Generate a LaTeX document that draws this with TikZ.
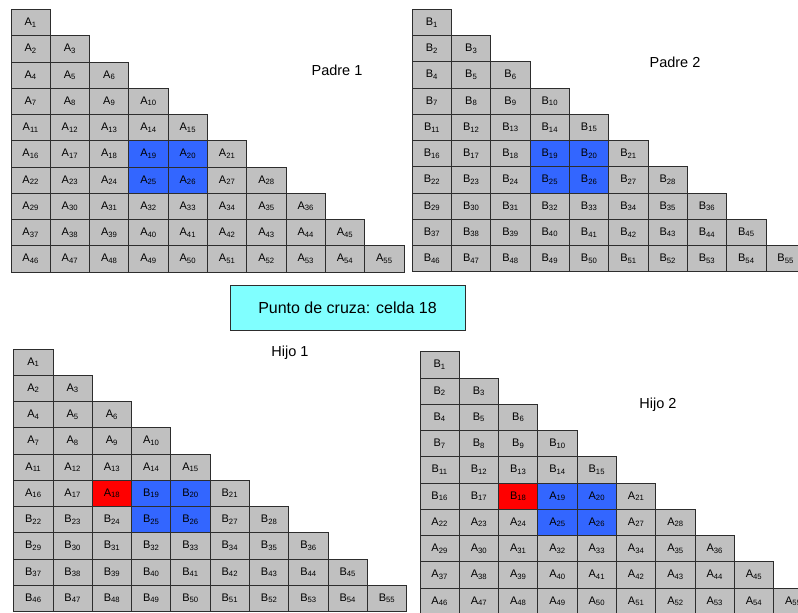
\documentclass[tikz,border=0pt]{standalone}
\usepackage{fontspec}
\setmainfont{Liberation Sans}
\definecolor{celdaGris}{RGB}{192,192,192}
\definecolor{celdaAzul}{RGB}{51,102,255}
\definecolor{celdaRoja}{RGB}{255,0,0}
\definecolor{cajaCian}{RGB}{128,255,255}
\definecolor{bordeOscuro}{RGB}{45,45,45}
\tikzset{
  celda/.style={draw=bordeOscuro, line width=0.9pt, fill=celdaGris, minimum width=39.3pt, minimum height=26.25pt, inner sep=0pt, font=\fontsize{11}{12}\selectfont},
  titulo/.style={font=\fontsize{14.5}{16}\selectfont},
  cruce/.style={draw=bordeOscuro, line width=0.9pt, fill=cajaCian, minimum width=235pt, minimum height=45pt, font=\fontsize{16}{18}\selectfont}
}
% #1 nombre, #2 x0, #3 y0, #4 letra hasta 18, #5 letra desde 19, #6 color de la celda 18
\newcommand{\triangulo}[6]{%
  \foreach \fila in {1,...,10}{
    \foreach \col in {1,...,\fila}{
      \pgfmathtruncatemacro{\k}{\fila*(\fila-1)/2+\col}
      \ifnum\k>18 \def\letra{#5}\else\def\letra{#4}\fi
      \def\relleno{celdaGris}
      \ifnum\k=18 \def\relleno{#6}\fi
      \ifnum\k=19 \def\relleno{celdaAzul}\fi
      \ifnum\k=20 \def\relleno{celdaAzul}\fi
      \ifnum\k=25 \def\relleno{celdaAzul}\fi
      \ifnum\k=26 \def\relleno{celdaAzul}\fi
      \node[celda, fill=\relleno] (#1-\k) at ({#2+(\col-0.5)*39.3}, {#3+(\fila-0.5)*26.25}) {\letra\textsubscript{\k}};
    }
  }}

\begin{document}
\begin{tikzpicture}[x=1pt, y=-1pt]
  \useasboundingbox (0,0) rectangle (798,613);
  % padres
  \triangulo{padre1}{11}{9.5}{A}{A}{celdaGris}
  \triangulo{padre2}{412.3}{9.3}{B}{B}{celdaGris}
  \node[titulo] (tituloP1) at (337,70) {Padre 1};
  \node[titulo] (tituloP2) at (675,62) {Padre 2};
  % punto de cruza
  \node[cruce] (cruza) at (347.5,307.5) {Punto de cruza: celda 18};
  % hijos
  \triangulo{hijo1}{13.7}{349}{A}{B}{celdaRoja}
  \triangulo{hijo2}{420}{351.7}{B}{A}{celdaRoja}
  \node[titulo] (tituloH1) at (290,353) {Hijo 1};
  \node[titulo] (tituloH2) at (658,405) {Hijo 2};
\end{tikzpicture}
\end{document}
